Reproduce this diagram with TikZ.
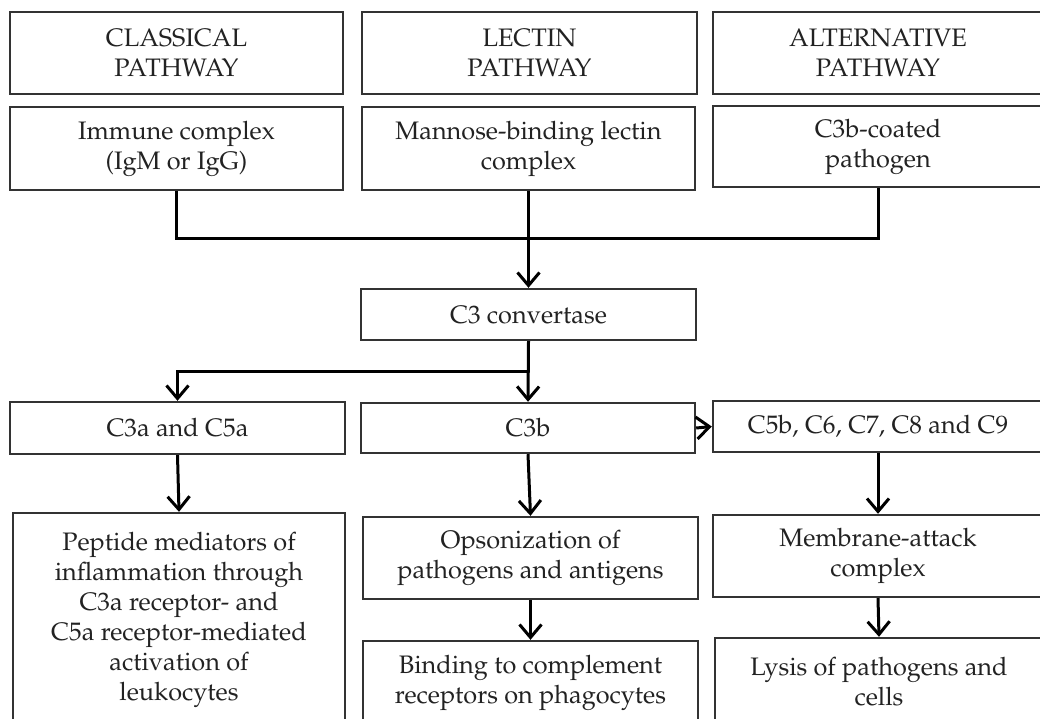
\documentclass[tikz,border=0pt]{standalone}
\usepackage[T1]{fontenc}
\renewcommand{\rmdefault}{ppl}
\usetikzlibrary{arrows.meta}
\definecolor{ink}{HTML}{222222}
\definecolor{edge}{HTML}{333333}
\tikzset{
  box/.style={draw=edge, line width=2.4pt, fill=white, align=center, inner sep=0pt,
    text=ink, font=\fontsize{25.3}{30}\selectfont},
  conn/.style={line width=3pt, draw=black},
  arr/.style={conn, -{Straight Barb[length=13pt,width=22pt]}}
}
\begin{document}
\begin{tikzpicture}[x=1pt,y=-1pt]
\useasboundingbox (0,0) rectangle (1040,718);
\clip (0,0) rectangle (1040,718);
\fill[white] (0,0) rectangle (1040,718);
% row 1
\node[box, minimum width=333, minimum height=82] (cls) at (176.5,53) {CLASSICAL\\PATHWAY};
\node[box, minimum width=335, minimum height=82] (lec) at (529.5,53) {LECTIN\\PATHWAY};
\node[box, minimum width=330, minimum height=82] (alt) at (878,53) {ALTERNATIVE\\PATHWAY};
% row 2
\node[box, minimum width=333, minimum height=83] (imm) at (176.5,148.5) {Immune complex\\(IgM or IgG)};
\node[box, minimum width=333, minimum height=83] (mbl) at (528.5,148.5) {Mannose-binding lectin\\complex};
\node[box, minimum width=330, minimum height=81] (coat) at (878,146.5) {C3b-coated\\pathogen};
% convertase
\node[box, minimum width=335, minimum height=51] (conv) at (528.5,314.5) {C3 convertase};
% row 3
\node[box, minimum width=335, minimum height=52] (c3a) at (177.5,428) {C3a and C5a};
\node[box, minimum width=334, minimum height=50] (c3b) at (528,428) {C3b};
\node[box, minimum width=330, minimum height=51] (c5b) at (878,426.5) {C5b, C6, C7, C8 and C9};
% row 4
\node[box, minimum width=332, minimum height=214] (pep) at (179,620) {Peptide mediators of\\inflammation through\\C3a receptor- and\\C5a receptor-mediated\\activation of\\leukocytes};
\node[box, minimum width=335, minimum height=82] (ops) at (530.5,558) {Opsonization of\\pathogens and antigens};
\node[box, minimum width=330, minimum height=82] (mem) at (878,556) {Membrane-attack\\complex};
% row 5
\node[box, minimum width=335, minimum height=84] (bind) at (530.5,683) {Binding to complement\\receptors on phagocytes};
\node[box, minimum width=328, minimum height=88] (lys) at (879,682) {Lysis of pathogens and\\cells};
% connectors
\draw[conn] (imm.south) -- ++(0,47) -| (coat.south);
\draw[arr] (mbl.south) -- (conv.north);
\draw[arr] (conv.south) -- (c3b.north);
\draw[arr] (conv.south) ++(0,30) -| (c3a.north);
\draw[arr] (c3b.east) -- (c5b.west);
\draw[arr] (c3a.south) -- (pep.north);
\draw[arr] (c3b.south) -- (ops.north);
\draw[arr] (ops.south) -- (bind.north);
\draw[arr] (c5b.south) -- (mem.north);
\draw[arr] (mem.south) -- (lys.north);
\end{tikzpicture}
\end{document}
